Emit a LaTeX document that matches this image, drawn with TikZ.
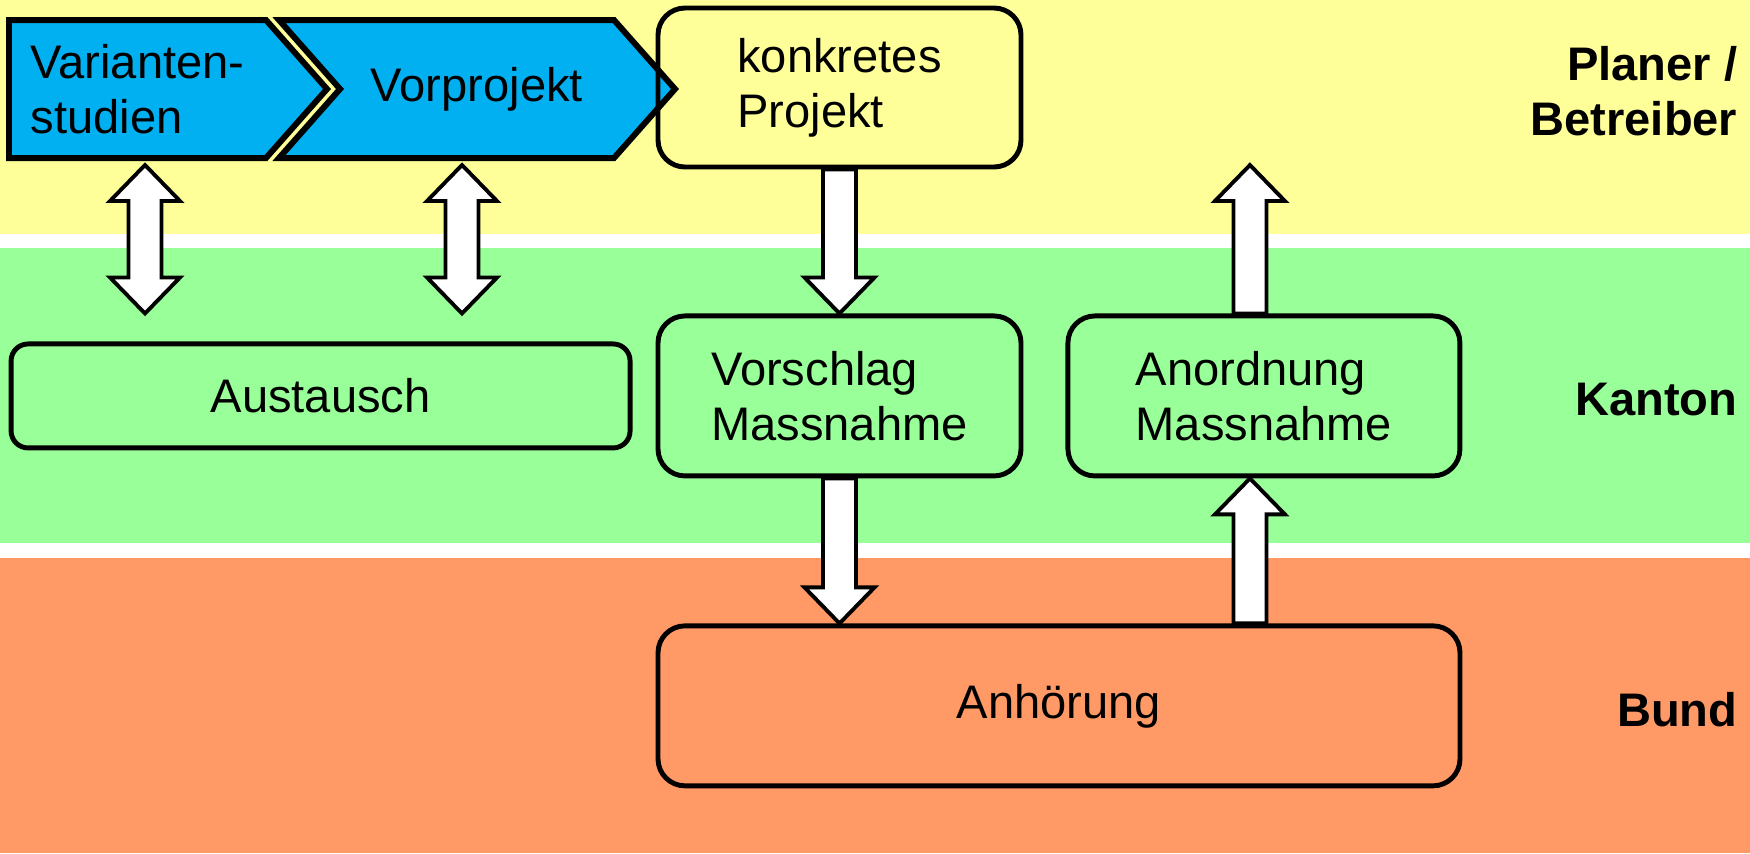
\documentclass[tikz,border=0pt]{standalone}
\usepackage{fontspec}
\setmainfont{Liberation Sans}
\usetikzlibrary{positioning, calc, backgrounds}

\definecolor{planerbg}{HTML}{FFFF99}
\definecolor{kantonbg}{HTML}{99FF99}
\definecolor{bundbg}{HTML}{FF9966}
\definecolor{phaseblue}{HTML}{00B0F0}

\newcommand{\arrshaft}{0.165cm}
\newcommand{\arrhead}{0.35cm}
\newcommand{\arrlen}{0.36cm}
\newcommand{\tipdepth}{0.61cm}

\tikzset{
  txt/.style = {font=\fontsize{13.4}{15.6}\selectfont, align=left, inner sep=0pt},
  phase/.style = {rectangle, minimum height=1.38cm, outer sep=0pt, txt},
  phaseline/.style = {draw=black, fill=phaseblue, line width=1.7pt, line join=miter},
  box/.style = {rectangle, rounded corners=0.27cm, draw=black, line width=1.4pt, minimum width=3.63cm, minimum height=1.6cm, txt},
  level/.style = {font=\fontsize{13.4}{15.6}\selectfont\bfseries, align=right, anchor=east, inner sep=0pt},
  blockarrow/.style = {draw=black, fill=white, line width=1.1pt, line join=miter,
    to path={let \p1=(\tikztostart), \p2=(\tikztotarget), \n1={sign(\y2-\y1)} in
      ({\x1-\arrshaft},\y1) -- ({\x1-\arrshaft},{\y2-(\n1)*\arrlen}) -- ({\x1-\arrhead},{\y2-(\n1)*\arrlen}) -- (\x1,\y2)
      -- ({\x1+\arrhead},{\y2-(\n1)*\arrlen}) -- ({\x1+\arrshaft},{\y2-(\n1)*\arrlen}) -- ({\x1+\arrshaft},\y1) -- cycle}},
  twinarrow/.style = {draw=black, fill=white, line width=1.1pt, line join=miter,
    to path={let \p1=(\tikztostart), \p2=(\tikztotarget), \n1={sign(\y2-\y1)} in
      (\x1,\y1) -- ({\x1+\arrhead},{\y1+(\n1)*\arrlen}) -- ({\x1+\arrshaft},{\y1+(\n1)*\arrlen})
      -- ({\x1+\arrshaft},{\y2-(\n1)*\arrlen}) -- ({\x1+\arrhead},{\y2-(\n1)*\arrlen}) -- (\x1,\y2)
      -- ({\x1-\arrhead},{\y2-(\n1)*\arrlen}) -- ({\x1-\arrshaft},{\y2-(\n1)*\arrlen})
      -- ({\x1-\arrshaft},{\y1+(\n1)*\arrlen}) -- ({\x1-\arrhead},{\y1+(\n1)*\arrlen}) -- cycle}}
}

\begin{document}
\begin{tikzpicture}[node distance=1.44cm and 0.42cm]

    \useasboundingbox (0,0) rectangle (17.5,-8.53);

    % project phases
    \node[phase, minimum width=2.57cm] (variant) at (1.375,-0.89) {Varianten-\\studien};
    \node[phase, minimum width=2.74cm] (vorprojekt) at (4.77,-0.89) {Vorprojekt};
    \node[box, minimum height=1.59cm] (konkret) at (8.395,-0.875) {konkretes\\Projekt};

    % Kanton row
    \node[box, fill=kantonbg, below=of konkret] (vorschlag) {Vorschlag\\Massnahme};
    \node[box, fill=kantonbg, minimum width=3.92cm, right=of vorschlag] (anordnung) {Anordnung\\Massnahme};
    \node[box, fill=kantonbg, rounded corners=0.17cm, minimum width=6.19cm, minimum height=1.04cm, left=0.23cm of vorschlag] (austausch) {Austausch};

    % Bund row
    \node[box, fill=bundbg, minimum width=8.02cm, below=1.45cm of vorschlag.south west, anchor=north west] (anhoerung) {Anhörung};

    % level labels
    \node[level] (planer) at (17.38,-0.915) {Planer /\\Betreiber};
    \node[level] (kanton) at (17.38,-4.0) {Kanton};
    \node[level] (bund) at (17.38,-7.10) {Bund};

    \begin{scope}[on background layer]
      % level bands
      \fill[white] (0,0) rectangle (17.5,-8.53);
      \fill[planerbg] (0,0) rectangle (17.5,-2.34);
      \fill[kantonbg] (0,-2.48) rectangle (17.5,-5.43);
      \fill[bundbg] (0,-5.58) rectangle (17.5,-8.53);
      % chevrons
      \draw[phaseline] (variant.north west) -- (variant.north east) -- ([xshift=\tipdepth]variant.east)
        -- (variant.south east) -- (variant.south west) -- cycle;
      \draw[phaseline] ([xshift=-\tipdepth]vorprojekt.north west) -- (vorprojekt.north east) -- ([xshift=\tipdepth]vorprojekt.east)
        -- (vorprojekt.south east) -- ([xshift=-\tipdepth]vorprojekt.south west) -- (vorprojekt.west) -- cycle;
    \end{scope}

    % arrow ends
    \coordinate (xv) at ([xshift=0.075cm, yshift=-0.07cm]variant.south);
    \coordinate (xa) at (xv |- vorschlag.north);
    \coordinate (xw) at ([xshift=-0.15cm, yshift=-0.07cm]vorprojekt.south);
    \coordinate (xb) at (xw |- vorschlag.north);
    \coordinate (xo) at ([xshift=-0.14cm]anordnung.north);
    \coordinate (xt) at (xo |- xv);

    % arrows
    \draw[twinarrow] (xv) to (xa);
    \draw[twinarrow] (xw) to (xb);
    \draw[blockarrow] (konkret.south) to (vorschlag.north);
    \draw[blockarrow] (vorschlag.south) to (anhoerung.north -| vorschlag.south);
    \draw[blockarrow] (anhoerung.north -| xo) to (anordnung.south -| xo);
    \draw[blockarrow] (xo) to (xt);

\end{tikzpicture}
\end{document}
